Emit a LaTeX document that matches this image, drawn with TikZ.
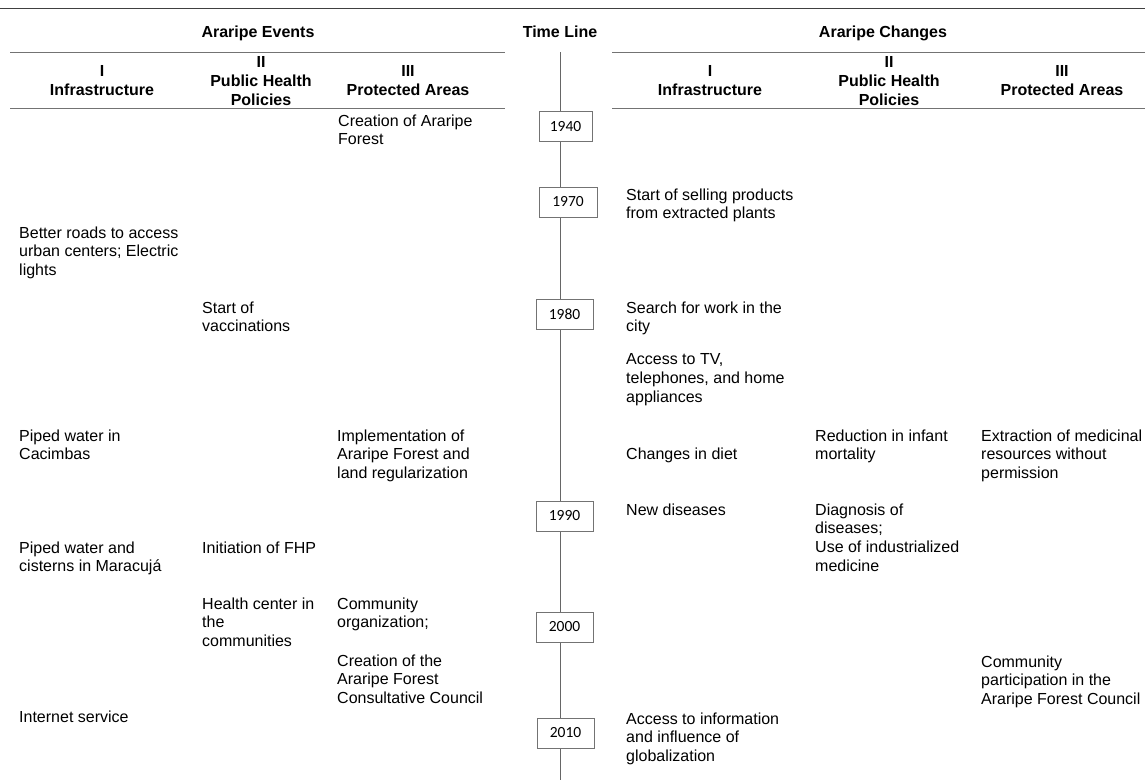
\documentclass[tikz,border=0pt]{standalone}
\usepackage{fontspec}
\setmainfont{Liberation Sans}
\newfontfamily\yearfont{Carlito}
\usetikzlibrary{positioning}

\begin{document}
\begin{tikzpicture}[x=1pt, y=-1pt,
    rule/.style={draw=black!55, line width=1pt},
    txt/.style={anchor=north west, align=left, inner sep=0pt, font=\fontsize{16}{18.7}\selectfont},
    hdr/.style={anchor=north, align=center, inner sep=0pt, font=\bfseries\fontsize{16}{19}\selectfont},
    yearbox/.style={draw=black!55, fill=white, line width=1pt, inner sep=0pt,
      minimum width=57, minimum height=30, font=\yearfont\fontsize{15.5}{17}\selectfont}]
    \useasboundingbox (0,0) rectangle (1145,780);

    % rules of the table head
    \coordinate (t0) at (0,8);      \coordinate (t1) at (1145,8);
    \coordinate (l0) at (10,52);    \coordinate (l1) at (505,52);
    \coordinate (l2) at (10,108);   \coordinate (l3) at (505,108);
    \coordinate (r0) at (612,52);   \coordinate (r1) at (1145,52);
    \coordinate (r2) at (612,108);  \coordinate (r3) at (1145,108);
    \draw[rule, draw=black!75] (t0) -- (t1);
    \draw[rule] (l0) -- (l1);
    \draw[rule] (l2) -- (l3);
    \draw[rule] (r0) -- (r1);
    \draw[rule] (r2) -- (r3);

    \node[hdr] (events) at (258,25.5) {Araripe Events};
    \node[hdr] (tline) at (560,25.5) {Time Line};
    \node[hdr] (changes) at (883,25.5) {Araripe Changes};

    \node[hdr] (ev1) at (102,65.5) {I\\Infrastructure};
    \node[hdr] (ev2) at (261,56.5) {II\\Public Health\\Policies};
    \node[hdr] (ev3) at (408,65.5) {III\\Protected Areas};
    \node[hdr] (ch1) at (710,65.5) {I\\Infrastructure};
    \node[hdr] (ch2) at (889,56.5) {II\\Public Health\\Policies};
    \node[hdr] (ch3) at (1062,65.5) {III\\Protected Areas};

    % time line
    \coordinate (tltop) at (560,52);
    \coordinate (tlbot) at (560,780);
    \draw[rule, draw=black!60] (tltop) -- (tlbot);
    \foreach \yr/\px/\py/\w in {1940/565.5/126.5/53, 1970/568/202/58, 1980/564.5/314/57,
                                1990/564.5/516/57, 2000/564.5/627/57, 2010/565.5/733/57}
      \node[yearbox, minimum width=\w] (y\yr) at (\px,\py) {\yr};

    % Araripe events
    \node[txt] (forest) at (338,114.4) {Creation of Araripe\\Forest};
    \node[txt] (roads) at (19,226.4) {Better roads to access\\urban centers; Electric\\lights};
    \node[txt] (vacc) at (202,301.4) {Start of\\vaccinations};
    \node[txt] (cacimbas) at (19,429.4) {Piped water in\\Cacimbas};
    \node[txt] (implem) at (337,429.4) {Implementation of\\Araripe Forest and\\land regularization};
    \node[txt] (maracuja) at (19,541.4) {Piped water and\\cisterns in Maracujá};
    \node[txt] (fhp) at (202,541.4) {Initiation of FHP};
    \node[txt] (hcenter) at (202,597.4) {Health center in\\the\\communities};
    \node[txt] (commorg) at (337,597.4) {Community\\organization;};
    \node[txt] (council) at (337,654.4) {Creation of the\\Araripe Forest\\Consultative Council};
    \node[txt] (internet) at (19,710.4) {Internet service};

    % Araripe changes
    \node[txt] (selling) at (626,188.4) {Start of selling products\\from extracted plants};
    \node[txt] (work) at (626,301.4) {Search for work in the\\city};
    \node[txt] (tv) at (626,353.4) {Access to TV,\\telephones, and home\\appliances};
    \node[txt] (diet) at (626,448.1) {Changes in diet};
    \node[txt] (infant) at (815,429.4) {Reduction in infant\\mortality};
    \node[txt] (extract) at (981,429.4) {Extraction of medicinal\\resources without\\permission};
    \node[txt] (newdis) at (626,503.4) {New diseases};
    \node[txt] (diagn) at (815,503.4) {Diagnosis of\\diseases;\\Use of industrialized\\medicine};
    \node[txt] (partic) at (981,655.4) {Community\\participation in the\\Araripe Forest Council};
    \node[txt] (global) at (626,712.4) {Access to information\\and influence of\\globalization};
  \end{tikzpicture}
\end{document}
